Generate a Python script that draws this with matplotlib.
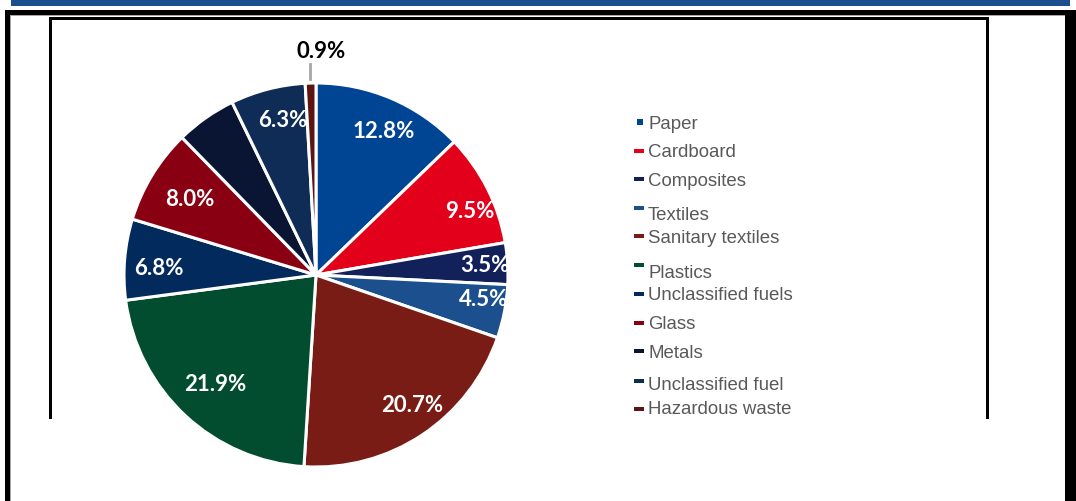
import matplotlib.pyplot as plt
from matplotlib.patches import Rectangle
import numpy as np

# waste composition shares (%)
categories = ["Paper", "Cardboard", "Composites", "Textiles", "Sanitary textiles",
              "Plastics", "Unclassified fuels", "Glass", "Metals",
              "Unclassified fuel", "Hazardous waste"]
shares = [12.8, 9.5, 3.5, 4.5, 20.7, 21.9, 6.8, 8.0, 5.1, 6.3, 0.9]
show_label = [True, True, True, True, True, True, True, True, False, True, True]
colors = ["#004494", "#E2001A", "#13215B", "#1B4F8E", "#7A1C16",
          "#024D30", "#032A5C", "#8A0013", "#0A1433", "#0F2C56", "#5C1513"]

W, H = 1076, 502
fig = plt.figure(figsize=(W / 100, H / 100), dpi=100)


def box(x0, y0, x1, y1, color):
    # rectangle given in pixel coords, origin top-left
    fig.patches.append(Rectangle((x0 / W, 1 - y1 / H), (x1 - x0) / W, (y1 - y0) / H,
                                 transform=fig.transFigure, facecolor=color,
                                 edgecolor="none", zorder=0))


# page frame
box(11, 0, 1070, 7, "#1B4F8E")
box(5, 11, 1076, 16, "black")
box(10, 16, 1065, 17, "#A6A6A6")
box(5, 11, 10, 502, "black")
box(10, 16, 11, 502, "#A6A6A6")
box(1065, 11, 1076, 502, "black")
# chart area border
box(49, 18, 989, 21, "black")
box(49, 18, 52, 420, "black")
box(986, 18, 989, 420, "black")

# pie
cx, cy, R = 316, 276, 192
ax = fig.add_axes([(cx - R) / W, (H - cy - R) / H, 2 * R / W, 2 * R / H])
wedges, _ = ax.pie(shares, colors=colors, startangle=90, counterclock=False,
                   radius=1, wedgeprops=dict(edgecolor="white", linewidth=2.2))
ax.set_xlim(-1, 1)
ax.set_ylim(-1, 1)
ax.set_aspect("equal")
ax.axis("off")

# label placement: distance from centre and angular nudge (degrees)
label_r = [0.83, 0.87, 0.88, 0.88, 0.84, 0.77, 0.82, 0.77, 0.8, 0.83, 1.17]
label_da = [-2, -4, 0, 3, 3, 0, 2, 0, 0, -2.5, 0]
lab_font = dict(family=["Lato", "DejaVu Sans"], fontweight="bold", fontsize=16)
for w, val, show, r, da in zip(wedges, shares, show_label, label_r, label_da):
    if not show:
        continue
    ang = np.deg2rad((w.theta1 + w.theta2) / 2 + da)
    x, y = r * np.cos(ang), r * np.sin(ang)
    if val < 2:
        # small slice: label outside with a leader line
        ax.plot([1.02 * np.cos(ang), 1.02 * np.cos(ang)], [1.02, 1.10],
                color="#A6A6A6", lw=2, clip_on=False)
        ax.text(x + 0.06, y, f"{val:.1f}%", color="black", ha="center",
                va="center", **lab_font)
    else:
        ax.text(x, y, f"{val:.1f}%", color="white", ha="center", va="center",
                **lab_font)

# legend
text_y = [122.7, 150.7, 180, 214.3, 236.7, 272.3, 293.7, 322.7, 351.7, 384.3, 408.3]
mark_y = [122.7, 151.7, 180, 208.7, 237.3, 266.3, 295, 324, 352.3, 381.7, 410]
for name, c, ty, my in zip(categories, colors, text_y, mark_y):
    if name == "Paper":
        box(637, my - 3, 643, my + 3, c)
    else:
        box(634, my - 2, 644, my + 2, c)
    fig.text(648 / W, 1 - (ty + 1.5) / H, name, color="#595959", fontsize=13.4,
             family=["Liberation Sans", "DejaVu Sans"], ha="left", va="center")

fig.savefig("out.png", dpi=100)
